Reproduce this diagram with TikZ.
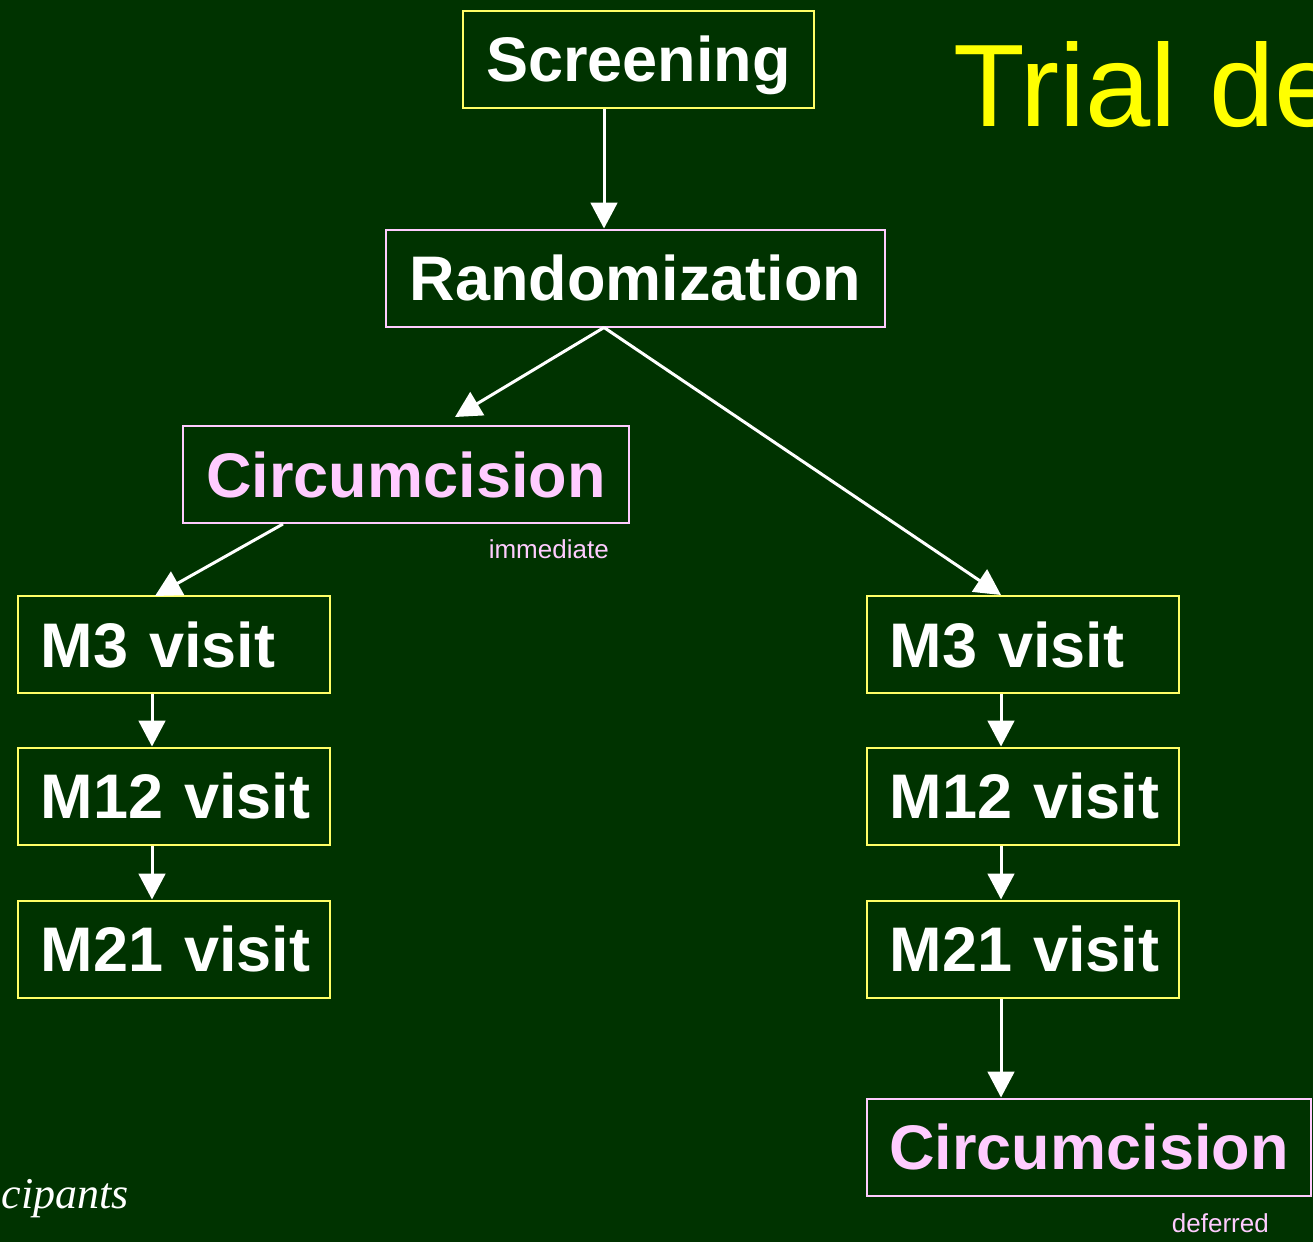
\documentclass[tikz,border=0pt]{standalone}
\usepackage{fontspec}
\setmainfont{Liberation Sans}
\newfontfamily\seriffam{Liberation Serif}
\usetikzlibrary{arrows.meta,calc}
\definecolor{bg}{HTML}{003300}
\definecolor{ylw}{HTML}{FFFF66}
\definecolor{pnk}{HTML}{FFCCFF}
\definecolor{ttl}{HTML}{FFFF00}
\begin{document}
\begin{tikzpicture}[x=0.75pt,y=-0.75pt,
  box/.style={draw, line width=1.5pt, fill=bg, inner sep=0pt, minimum height=72.75pt,
    font=\fontsize{47.25}{50}\selectfont\bfseries, text height=33.8pt, text depth=0pt},
  ybox/.style={box, draw=ylw, text=white},
  pbox/.style={box, draw=pnk, text=pnk},
  mbox/.style={ybox, inner xsep=17pt, text width=200pt, align=left},
  arr/.style={draw=white, line width=2.25pt, -{Triangle[width=20pt,length=19.5pt]}},
  note/.style={text=pnk, font=\fontsize{19.5}{22}\selectfont, inner sep=0pt, anchor=base east}
]
\fill[bg] (0,0) rectangle (1313,1242);
\useasboundingbox (0,0) rectangle (1313,1242);

% title and side text
\node[anchor=base west, text=ttl, font=\fontsize{88}{90}\selectfont, inner sep=0pt] (title) at (953,126) {Trial de};
\node[anchor=base east, text=white, font=\seriffam\itshape\fontsize{33}{36}\selectfont, inner sep=0pt] (part) at (129,1208) {cipants};

% boxes
\node[ybox, minimum width=263.25pt] (scr) at (638.5,59) {Screening};
\node[pbox, text=white, minimum width=374.25pt] (rand) at (635.5,278) {Randomization};
\node[pbox, minimum width=334.5pt] (circL) at (406,474.5) {Circumcision};
\node[note] (imm) at (609,558) {immediate};

\node[mbox] (m3L) at (174,644.5) {\mbox{M3 visit}};
\node[mbox] (m12L) at (174,796) {\mbox{M12 visit}};
\node[mbox] (m21L) at (174,949) {\mbox{M21 visit}};

\node[mbox] (m3R) at (1023,644.5) {\mbox{M3 visit}};
\node[mbox] (m12R) at (1023,796) {\mbox{M12 visit}};
\node[mbox] (m21R) at (1023,949) {\mbox{M21 visit}};

\node[pbox, minimum width=333pt] (circR) at (1089,1147) {Circumcision};
\node[note] (def) at (1269,1232) {deferred};

% connectors
\coordinate (xa) at (604,0);
\coordinate (xl) at (152,0);
\coordinate (xc) at (283,0);
\coordinate (xr) at (1001,0);
\coordinate (tipCL) at (455,417);
\coordinate (tipML) at (155,596);

\draw[arr] (scr.south -| xa) -- (rand.north -| xa);
\draw[arr] (rand.south -| xa) -- (tipCL);
\draw[arr] (rand.south -| xa) -- (m3R.north -| xr);
\draw[arr] (circL.south -| xc) -- (tipML);
\draw[arr] (m3L.south -| xl) -- (m12L.north -| xl);
\draw[arr] (m12L.south -| xl) -- (m21L.north -| xl);
\draw[arr] (m3R.south -| xr) -- (m12R.north -| xr);
\draw[arr] (m12R.south -| xr) -- (m21R.north -| xr);
\draw[arr] (m21R.south -| xr) -- (circR.north -| xr);
\end{tikzpicture}
\end{document}
